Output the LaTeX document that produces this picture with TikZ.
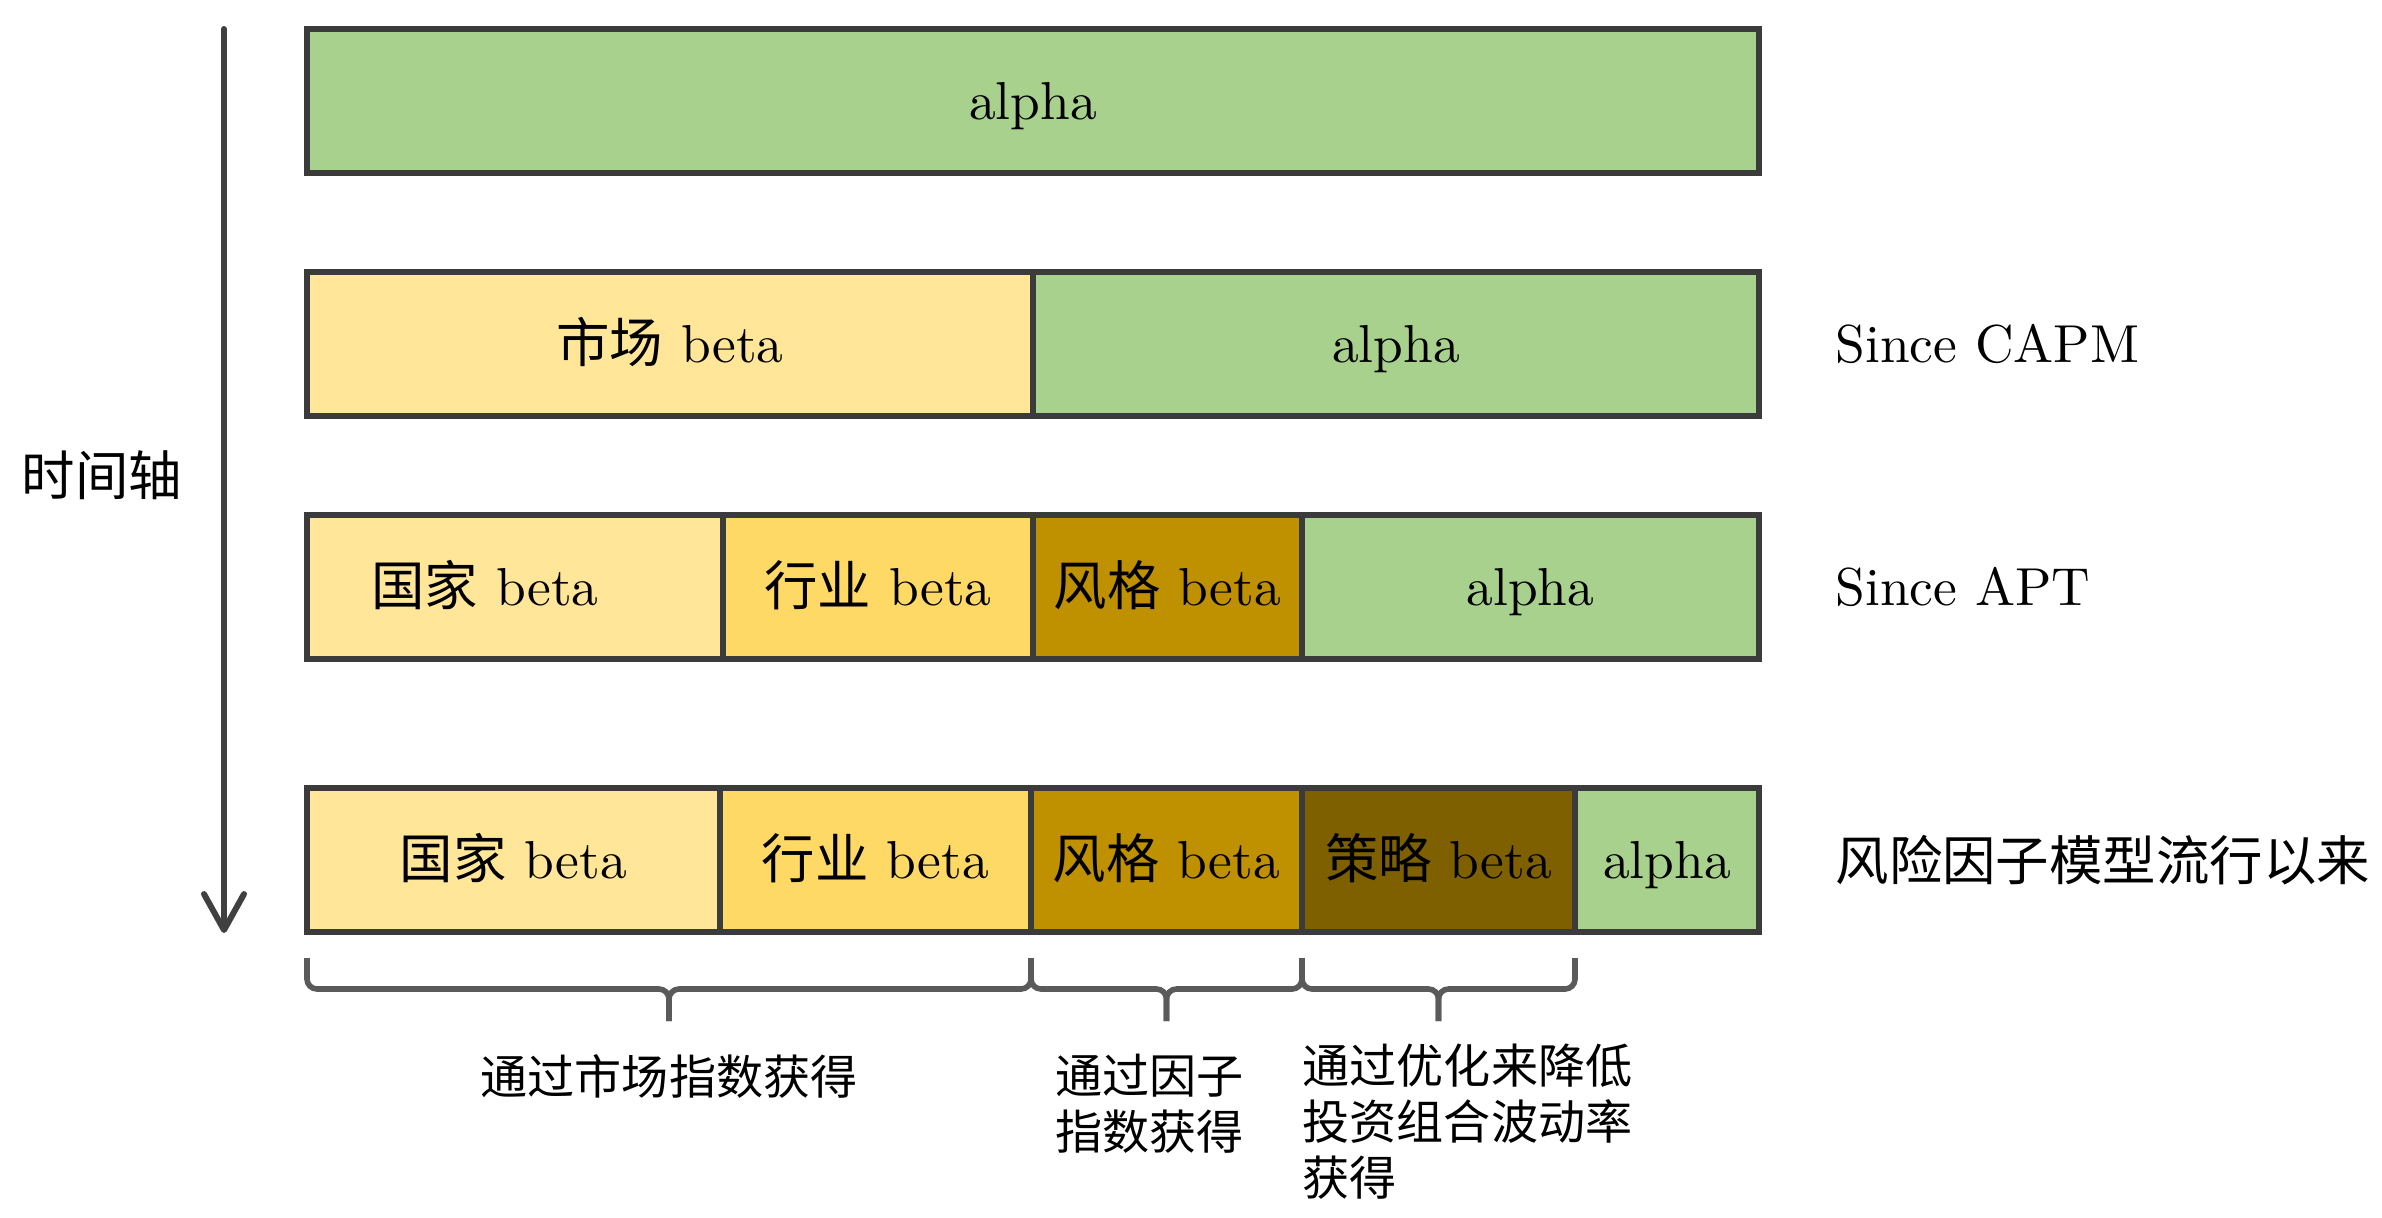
\documentclass[tikz,border=0pt]{standalone}
\usepackage{fontspec}
\setmainfont{lmroman10-regular.otf}[BoldFont=lmroman10-bold.otf]
\newfontfamily\cjk{Noto Sans CJK SC}
\usepackage{xcolor}
\usepackage{tikz}
\usetikzlibrary{arrows.meta, positioning, calc}

\definecolor{boxline}{HTML}{3B3B3B}
\definecolor{axisgray}{HTML}{404040}
\definecolor{bracegray}{HTML}{5A5A5A}
\definecolor{alphagreen}{HTML}{A9D18E}
\definecolor{paleyellow}{HTML}{FFE699}
\definecolor{midyellow}{HTML}{FFD966}
\definecolor{gold}{HTML}{BF9000}
\definecolor{darkgold}{HTML}{7F6000}

% brace under a group of segments: #1 left corner, #2 right corner
\newcommand{\groupbrace}[2]{%
  \coordinate (gbmid) at ($(#1)!0.5!(#2)$);
  \draw[bracket] ($(#1)+(0,-0.26)$) -- ($(#1)+(0,-0.57)$) -- ($(gbmid)+(0,-0.57)$) -- ($(gbmid)+(0,-0.89)$);
  \draw[bracket] ($(#2)+(0,-0.26)$) -- ($(#2)+(0,-0.57)$) -- ($(gbmid)+(0,-0.57)$) -- ($(gbmid)+(0,-0.89)$);
}

\begin{document}
\begin{tikzpicture}[
    seg/.style={draw=boxline, line width=1.6pt, minimum height=1.44cm, inner sep=0pt, outer sep=0pt,
      text height=13pt, text depth=2.4pt, font=\fontsize{15.2pt}{18pt}\selectfont},
    era/.style={inner sep=0pt, font=\fontsize{15.2pt}{18pt}\selectfont},
    note/.style={inner sep=0pt, align=left, font=\cjk\fontsize{13.4pt}{16pt}\selectfont},
    bracket/.style={draw=bracegray, line width=1.6pt, rounded corners=0.1cm}
  ]
  \useasboundingbox (0,0) rectangle (23.82,-12.17);

  % time axis
  \coordinate (t0) at (2.24,-0.29);
  \coordinate (t1) at (2.24,-9.33);
  \draw[-{Straight Barb[length=0.36cm, width=0.4cm, round]}, line width=1.7pt, line cap=round, axisgray] (t0) -- (t1);
  \node[era] (axis) at (1.02,-4.75) {\cjk 时间轴};

  % row 1
  \node[seg, fill=alphagreen, minimum width=14.52cm, anchor=west] (r1) at (3.07,-1.01) {alpha};

  % row 2
  \node[seg, fill=paleyellow, minimum width=7.26cm, anchor=west] (r2a) at (3.07,-3.44) {{\cjk 市场} beta};
  \node[seg, fill=alphagreen, minimum width=7.26cm, right=0pt of r2a] (r2b) {alpha};
  \node[era, right=0.76cm of r2b] (capm) {Since CAPM};

  % row 3
  \node[seg, fill=paleyellow, minimum width=4.16cm, anchor=west] (r3a) at (3.07,-5.87) {{\cjk 国家} beta\rule{0.6cm}{0pt}};
  \node[seg, fill=midyellow, minimum width=3.10cm, right=0pt of r3a] (r3b) {{\cjk 行业} beta};
  \node[seg, fill=gold, minimum width=2.69cm, right=0pt of r3b] (r3c) {{\cjk 风格} beta};
  \node[seg, fill=alphagreen, minimum width=4.57cm, right=0pt of r3c] (r3d) {alpha};
  \node[era, right=0.76cm of r3d] (apt) {Since APT};

  % row 4
  \node[seg, fill=paleyellow, minimum width=4.13cm, anchor=west] (r4a) at (3.07,-8.60) {{\cjk 国家} beta};
  \node[seg, fill=midyellow, minimum width=3.11cm, right=0pt of r4a] (r4b) {{\cjk 行业} beta};
  \node[seg, fill=gold, minimum width=2.71cm, right=0pt of r4b] (r4c) {{\cjk 风格} beta};
  \node[seg, fill=darkgold, minimum width=2.73cm, right=0pt of r4c] (r4d) {{\cjk 策略} beta};
  \node[seg, fill=alphagreen, minimum width=1.84cm, right=0pt of r4d] (r4e) {alpha};
  \node[era, right=0.76cm of r4e] (risk) {\cjk 风险因子模型流行以来};

  % braces under row 4
  \groupbrace{r4a.south west}{r4b.south east}
  \coordinate (b1) at (gbmid);
  \groupbrace{r4c.south west}{r4c.south east}
  \coordinate (b2) at (gbmid);
  \groupbrace{r4d.south west}{r4d.south east}
  \coordinate (b3) at (gbmid);

  \node[note, below=1.22cm of b1] (n1) {通过市场指数获得};
  \node[note, below=1.21cm of b2, xshift=-0.17cm] (n2) {通过因子\\指数获得};
  \node[note, below=1.11cm of b3, xshift=0.29cm] (n3) {通过优化来降低\\投资组合波动率\\获得};
\end{tikzpicture}
\end{document}
